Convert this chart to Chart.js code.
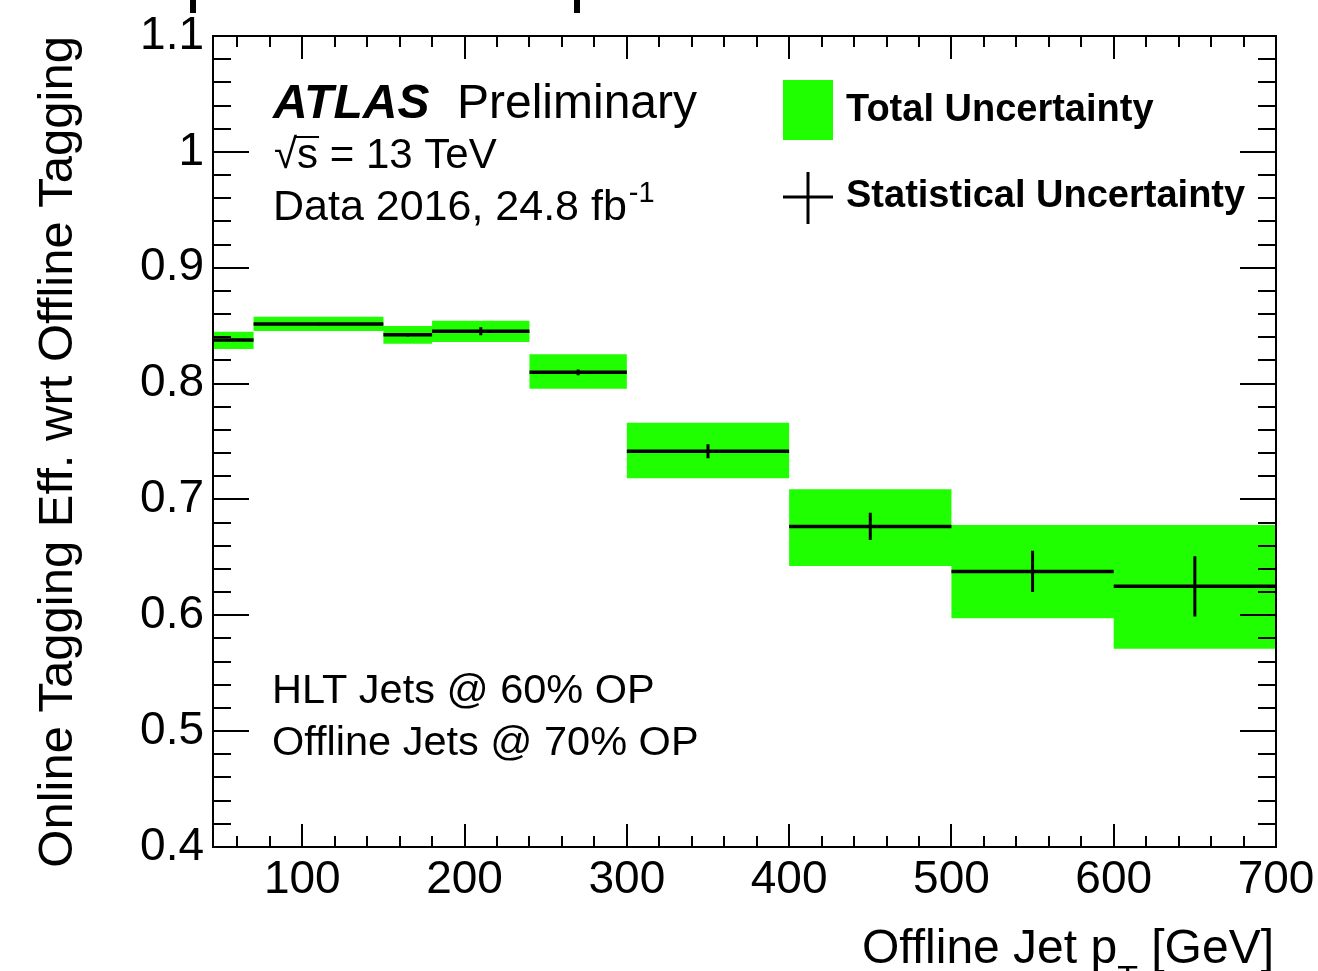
<!DOCTYPE html>
<html>
<head>
<meta charset="utf-8">
<script src="https://cdn.jsdelivr.net/npm/chart.js@4.4.1/dist/chart.umd.min.js"></script>
<style>
  html, body { margin: 0; padding: 0; background: #fff; }
  #wrap { position: relative; width: 1318px; height: 971px; overflow: hidden; }
  .mark { position: absolute; top: 0; width: 6px; height: 13px; background: #000; }
</style>
</head>
<body>
<div id="wrap">
  <canvas id="effChart" width="1318" height="971"></canvas>
  <div class="mark" style="left:190px"></div>
  <div class="mark" style="left:574px"></div>
</div>
<script>
// bin edges in offline jet pT [GeV]
const binEdges = [45, 70, 150, 180, 240, 300, 400, 500, 600, 700];
const efficiency = [0.8376, 0.8514, 0.8422, 0.8451, 0.8097, 0.7416, 0.6767, 0.6379, 0.6250];
const statErr = [0.001, 0.001, 0.0015, 0.0035, 0.0025, 0.006, 0.0117, 0.0177, 0.026];
const totalUp = [0.8448, 0.8577, 0.8497, 0.8543, 0.8253, 0.7662, 0.7088, 0.6779, 0.6779];
const totalDown = [0.8298, 0.8454, 0.8344, 0.8359, 0.7956, 0.7182, 0.6426, 0.5974, 0.5712];

const xTickValues = [100, 200, 300, 400, 500, 600, 700];
const yTickValues = [0.4, 0.5, 0.6, 0.7, 0.8, 0.9, 1.0, 1.1];

const FONT = '"Liberation Sans", Arial, Helvetica, sans-serif';
const GREEN = '#20ff00';

// step outline: one point per low edge, plus the last high edge
function stepPoints(values) {
  const pts = values.map((v, i) => ({ x: binEdges[i], y: v }));
  pts.push({ x: binEdges[binEdges.length - 1], y: values[values.length - 1] });
  return pts;
}

const centralLines = [];
const statBars = [];
efficiency.forEach((v, i) => {
  const lo = binEdges[i], hi = binEdges[i + 1], mid = (lo + hi) / 2;
  centralLines.push({ x: lo, y: v }, { x: hi, y: v }, { x: hi, y: null });
  statBars.push({ x: mid, y: v - statErr[i] }, { x: mid, y: v + statErr[i] }, { x: mid, y: null });
});

const atlasDecor = {
  id: 'atlasDecor',
  afterDraw(chart) {
    const { ctx, chartArea: a, scales: { x, y } } = chart;
    ctx.save();
    ctx.strokeStyle = '#000';
    ctx.lineWidth = 2;
    ctx.strokeRect(a.left, a.top, a.right - a.left, a.bottom - a.top);

    // ROOT style ticks, pointing inwards on all four sides
    ctx.beginPath();
    for (let v = 60; v <= 700; v += 20) {
      const px = Math.round(x.getPixelForValue(v));
      const len = v % 100 === 0 ? 23 : 11;
      ctx.moveTo(px, a.bottom); ctx.lineTo(px, a.bottom - len);
      ctx.moveTo(px, a.top); ctx.lineTo(px, a.top + len);
    }
    for (let k = 0; k <= 35; k++) {
      const py = Math.round(y.getPixelForValue(0.4 + k * 0.02));
      const len = k % 5 === 0 ? 36 : 18;
      ctx.moveTo(a.left, py); ctx.lineTo(a.left + len, py);
      ctx.moveTo(a.right, py); ctx.lineTo(a.right - len, py);
    }
    ctx.stroke();

    ctx.fillStyle = '#000';
    ctx.textBaseline = 'alphabetic';
    ctx.textAlign = 'left';

    // ATLAS label
    ctx.font = 'italic bold 48px ' + FONT;
    ctx.fillText('ATLAS', 273, 118);
    ctx.font = '48px ' + FONT;
    ctx.fillText('Preliminary', 457, 118);

    ctx.font = '42px ' + FONT;
    ctx.fillText('\u221As = 13 TeV', 274, 168);
    // overline of the square root
    const rw = ctx.measureText('\u221A').width;
    const sw = ctx.measureText('s').width;
    ctx.lineWidth = 2;
    ctx.beginPath();
    ctx.moveTo(274 + rw - 3, 137); ctx.lineTo(274 + rw + sw + 1, 137);
    ctx.stroke();

    ctx.font = '43px ' + FONT;
    const dataTxt = 'Data 2016, 24.8 fb';
    ctx.fillText(dataTxt, 273, 220);
    const dw = ctx.measureText(dataTxt).width;
    ctx.font = '29px ' + FONT;
    ctx.fillText('-1', 273 + dw + 2, 202);

    ctx.font = '41.5px ' + FONT;
    ctx.fillText('HLT Jets @ 60% OP', 272, 703);
    ctx.fillText('Offline Jets @ 70% OP', 272, 755);

    // legend
    ctx.fillStyle = GREEN;
    ctx.fillRect(783, 80, 50, 60);
    ctx.fillStyle = '#000';
    ctx.lineWidth = 3;
    ctx.beginPath();
    ctx.moveTo(783, 197); ctx.lineTo(833, 197);
    ctx.moveTo(808, 172); ctx.lineTo(808, 224);
    ctx.stroke();
    ctx.font = 'bold 38px ' + FONT;
    ctx.fillText('Total Uncertainty', 846, 121);
    ctx.fillText('Statistical Uncertainty', 846, 207);

    // x axis title, right aligned at the frame end
    ctx.font = '48px ' + FONT;
    const t1 = 'Offline Jet p', t3 = ' [GeV]';
    const w3 = ctx.measureText(t3).width;
    const w1 = ctx.measureText(t1).width;
    ctx.font = '34px ' + FONT;
    const w2 = ctx.measureText('T').width;
    const xr = 1274;
    ctx.font = '48px ' + FONT;
    ctx.fillText(t3, xr - w3, 963);
    ctx.fillText(t1, xr - w3 - w2 - w1, 963);
    ctx.font = '34px ' + FONT;
    ctx.fillText('T', xr - w3 - w2, 989);

    // y axis title, right aligned at the top of the frame
    ctx.save();
    ctx.translate(72, a.top);
    ctx.rotate(-Math.PI / 2);
    ctx.textAlign = 'right';
    ctx.font = '49px ' + FONT;
    ctx.fillText('Online Tagging Eff. wrt Offline Tagging', 0, 0);
    ctx.restore();

    ctx.restore();
  }
};

const ctx = document.getElementById('effChart').getContext('2d');
new Chart(ctx, {
  type: 'line',
  data: {
    datasets: [
      {
        label: 'Central',
        data: centralLines,
        borderColor: '#000',
        borderWidth: 3.5,
        pointRadius: 0,
        spanGaps: false,
        fill: false,
        order: 0
      },
      {
        label: 'Statistical Uncertainty',
        data: statBars,
        borderColor: '#000',
        borderWidth: 3,
        pointRadius: 0,
        spanGaps: false,
        fill: false,
        order: 1
      },
      {
        label: 'Total Uncertainty',
        data: stepPoints(totalUp),
        stepped: 'before',
        borderWidth: 0,
        borderColor: 'rgba(0,0,0,0)',
        backgroundColor: GREEN,
        pointRadius: 0,
        fill: '+1',
        order: 2
      },
      {
        label: 'Total Down',
        data: stepPoints(totalDown),
        stepped: 'before',
        borderWidth: 0,
        borderColor: 'rgba(0,0,0,0)',
        pointRadius: 0,
        fill: false,
        order: 3
      }
    ]
  },
  options: {
    responsive: false,
    animation: false,
    devicePixelRatio: 1,
    layout: { padding: { left: 0, right: 42, top: 36, bottom: 0 } },
    plugins: {
      legend: { display: false },
      tooltip: { enabled: false }
    },
    scales: {
      x: {
        type: 'linear',
        min: 45,
        max: 700,
        afterFit: s => { s.height = 124; s.paddingLeft = 0; s.paddingRight = 0; },
        afterBuildTicks: s => { s.ticks = xTickValues.map(v => ({ value: v })); },
        grid: { display: false, drawTicks: false },
        border: { display: false },
        ticks: {
          color: '#000',
          padding: 6,
          maxRotation: 0,
          autoSkip: false,
          font: { family: FONT, size: 46 },
          callback: v => String(v)
        }
      },
      y: {
        type: 'linear',
        min: 0.4,
        max: 1.1,
        afterFit: s => { s.width = 213; s.paddingTop = 0; s.paddingBottom = 0; },
        afterBuildTicks: s => { s.ticks = yTickValues.map(v => ({ value: v })); },
        grid: { display: false, drawTicks: false },
        border: { display: false },
        ticks: {
          color: '#000',
          padding: 9,
          autoSkip: false,
          font: { family: FONT, size: 46 },
          callback: v => String(+v.toFixed(1))
        }
      }
    }
  },
  plugins: [atlasDecor]
});
</script>
</body>
</html>
